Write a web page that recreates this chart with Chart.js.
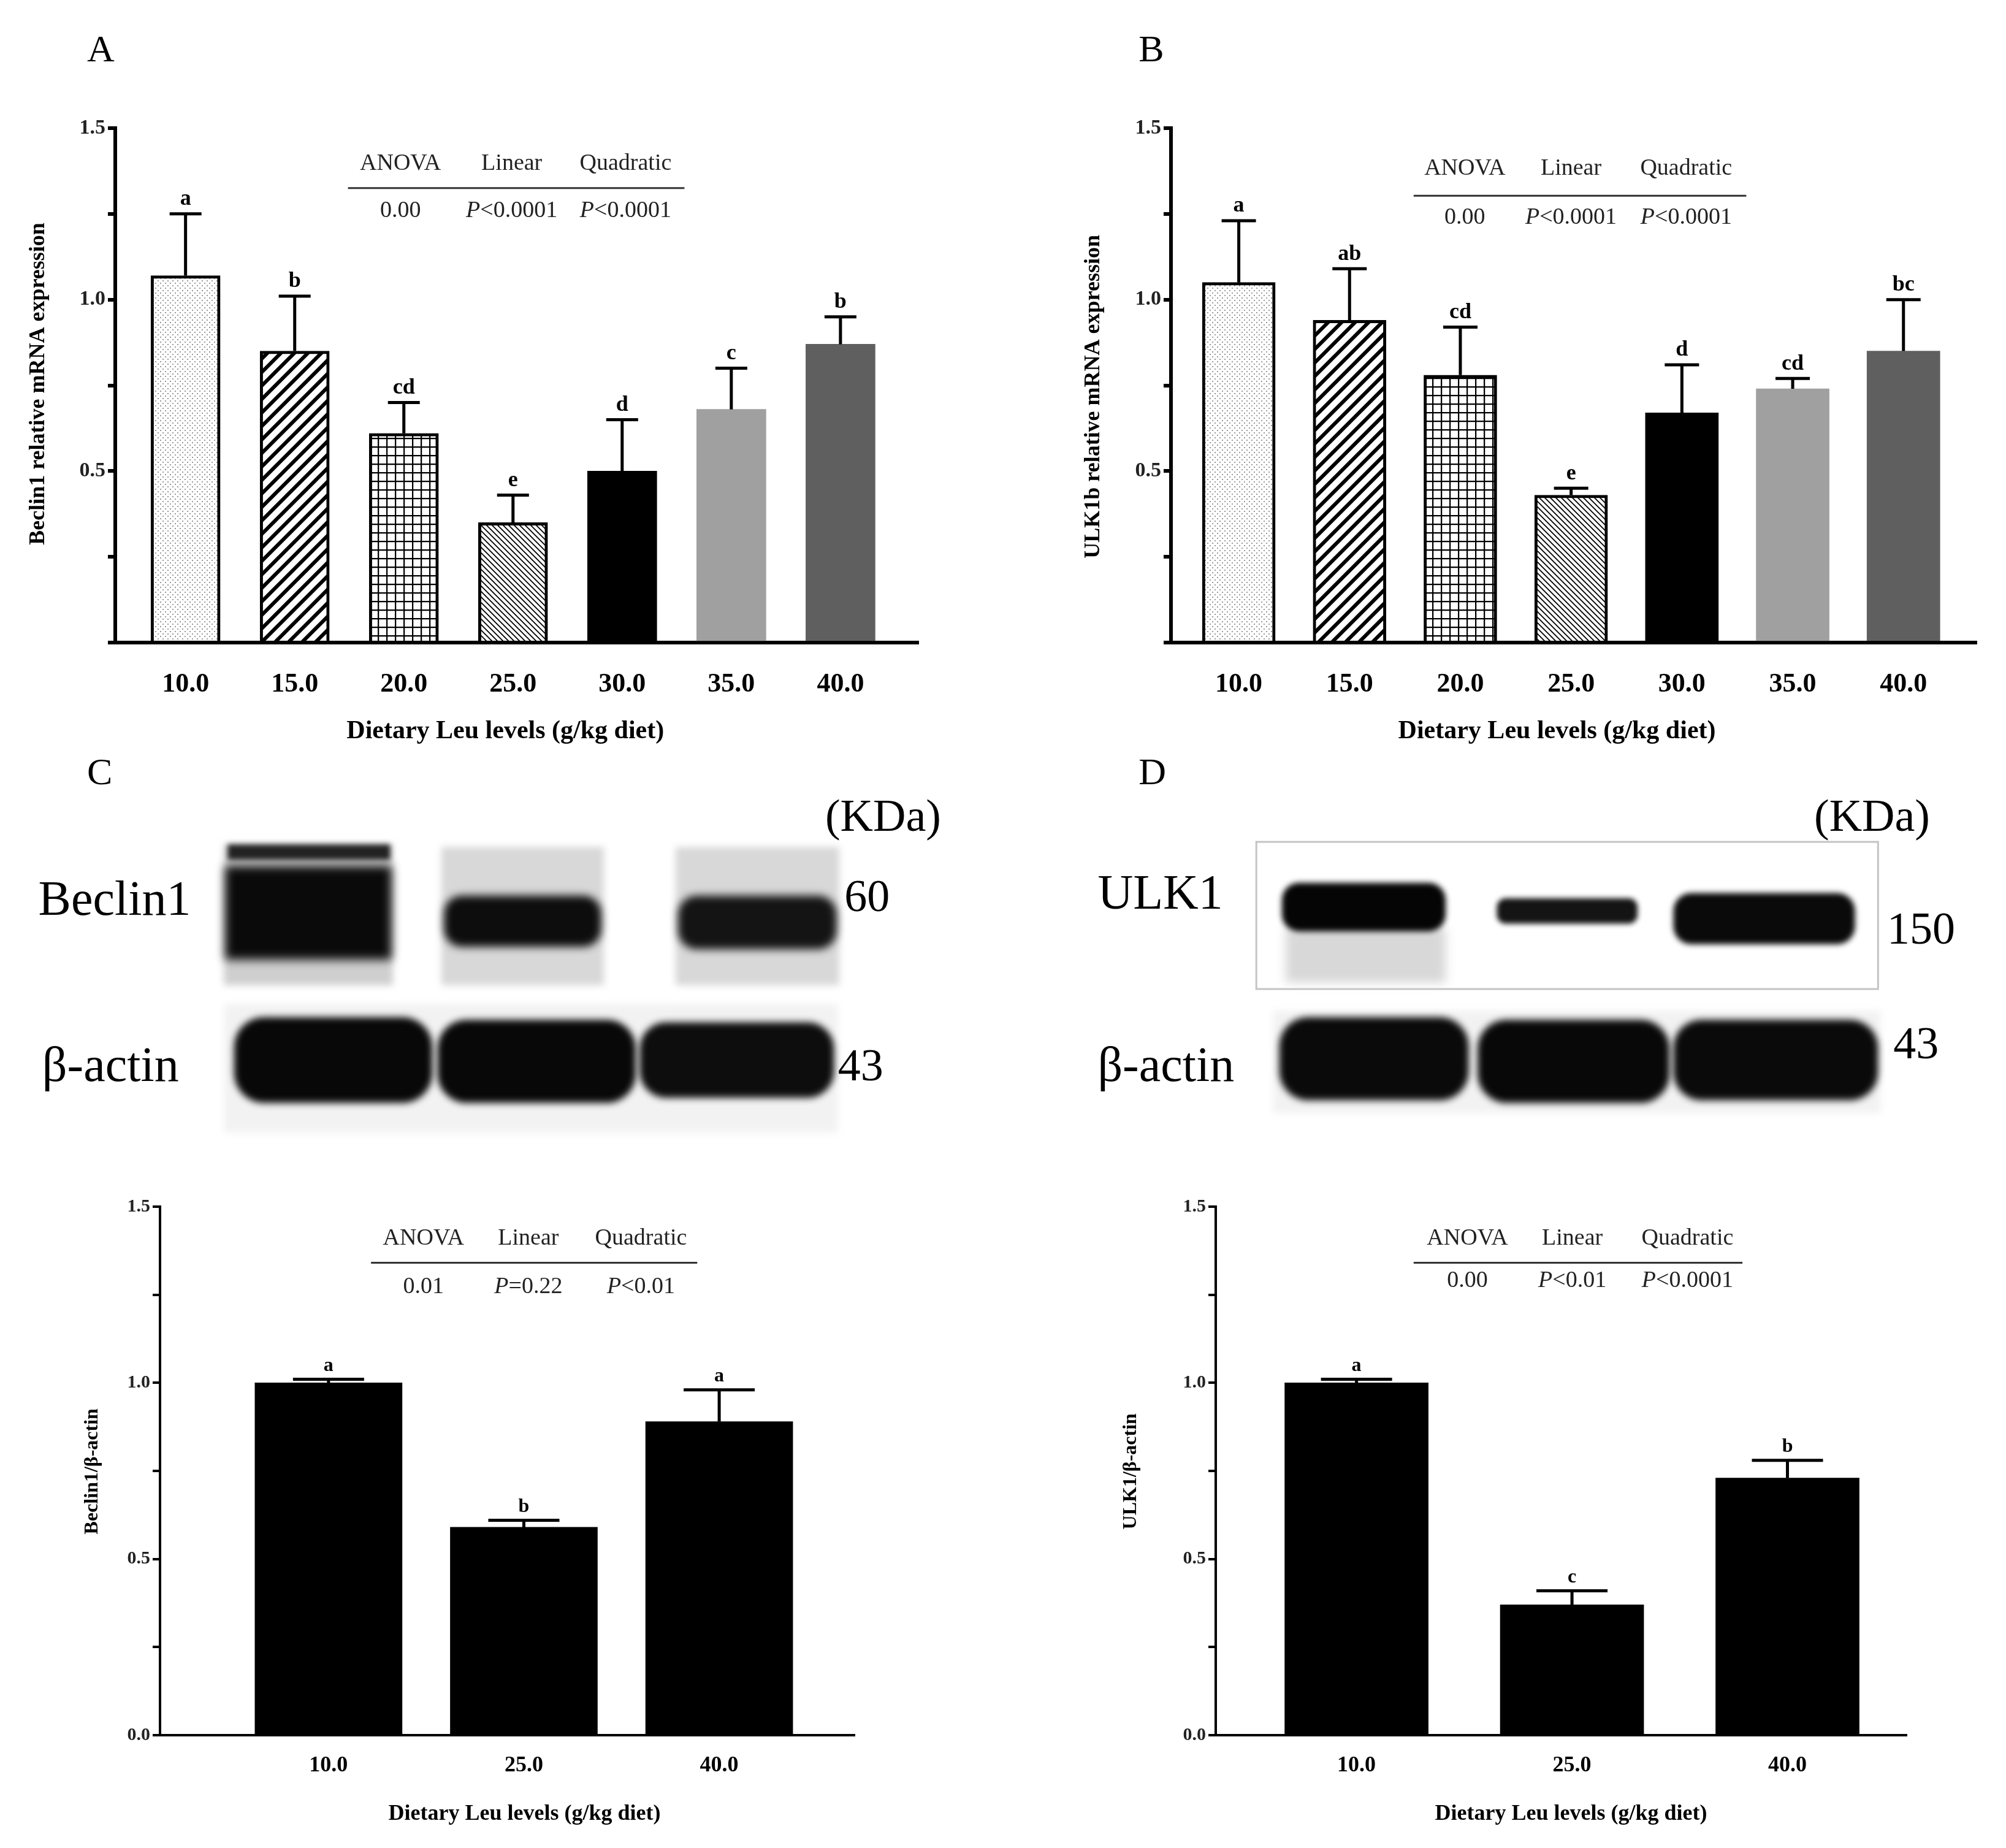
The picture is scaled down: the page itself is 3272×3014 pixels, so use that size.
<!DOCTYPE html>
<html><head><meta charset="utf-8">
<script src="https://cdn.jsdelivr.net/npm/chart.js@4.4.0/dist/chart.umd.min.js"></script>
<style>
html,body{margin:0;padding:0;background:#fff;width:3272px;height:3014px;overflow:hidden;position:relative;font-family:"Liberation Serif",serif}
canvas{position:absolute}
</style></head><body>
<canvas id="blot" width="3272" height="3014" style="left:0;top:0"></canvas>
<canvas id="cA" style="left:0;top:0"></canvas>
<canvas id="cB" style="left:1636px;top:0"></canvas>
<canvas id="cC" style="left:0;top:1800px"></canvas>
<canvas id="cD" style="left:1636px;top:1800px"></canvas>
<script>
// ---- data ----
const levelsAB = [10, 15, 20, 25, 30, 35, 40];
const beclinMRNA = [1.07, 0.85, 0.61, 0.35, 0.50, 0.68, 0.87];
const beclinMRNAErr = [0.18, 0.16, 0.09, 0.08, 0.15, 0.12, 0.08];
const beclinMRNALetters = ['a','b','cd','e','d','c','b'];
const ulkMRNA = [1.05, 0.94, 0.78, 0.43, 0.67, 0.74, 0.85];
const ulkMRNAErr = [0.18, 0.15, 0.14, 0.02, 0.14, 0.03, 0.15];
const ulkMRNALetters = ['a','ab','cd','e','d','cd','bc'];
const levelsCD = [10, 25, 40];
const beclinProt = [1.00, 0.59, 0.89];
const beclinProtErr = [0.01, 0.02, 0.09];
const beclinProtLetters = ['a','b','a'];
const ulkProt = [1.00, 0.37, 0.73];
const ulkProtErr = [0.01, 0.04, 0.05];
const ulkProtLetters = ['a','c','b'];
const yTicksAB = [0.5, 1.0, 1.5];
const yTicksCD = [0.0, 0.5, 1.0, 1.5];
const statsHead = ['ANOVA','Linear','Quadratic'];
const statsA = ['0.00','P<0.0001','P<0.0001'];
const statsB = ['0.00','P<0.0001','P<0.0001'];
const statsC = ['0.01','P=0.22','P<0.01'];
const statsD = ['0.00','P<0.01','P<0.0001'];

const S = 3272/1568;
const SERIF = '"Liberation Serif", serif';

// ---- patterns ----
function pat(kind){
  const c=document.createElement('canvas'); const n = kind==='dots'?8:(kind==='grid'?14:(kind==='wide'?22:9));
  c.width=n;c.height=n;const g=c.getContext('2d');
  g.fillStyle='#fff';g.fillRect(0,0,n,n);g.strokeStyle='#000';g.fillStyle='#9a9a9a';
  if(kind==='dots'){g.fillRect(1,1,2,2);g.fillRect(5,5,2,2);}
  else if(kind==='grid'){g.lineWidth=2.5;g.beginPath();g.moveTo(0,1);g.lineTo(n,1);g.moveTo(1,0);g.lineTo(1,n);g.stroke();}
  else if(kind==='wide'){g.lineWidth=6;g.beginPath();g.moveTo(-n,2*n);g.lineTo(2*n,-n);g.moveTo(-n,n);g.lineTo(n,-n);g.moveTo(0,2*n);g.lineTo(2*n,0);g.stroke();}
  else {g.lineWidth=1.8;g.beginPath();g.moveTo(-n,-n);g.lineTo(2*n,2*n);g.moveTo(-n,0);g.lineTo(n,2*n);g.moveTo(0,-n);g.lineTo(2*n,n);g.stroke();}
  return document.createElement('canvas').getContext('2d').createPattern(c,'repeat');
}
const fillsAB = [pat('dots'),pat('wide'),pat('grid'),pat('fine'),'#000','#a0a0a1','#5f5f5f'];
const bordersAB = [5,5,5,5,0,0,0];

// ---- plugin: error bars, letters, stats, titles ----
const deco = {
  id:'deco',
  afterDatasetsDraw(chart){
    const o = chart.options.plugins.deco; const ctx = chart.ctx;
    const xs = chart.scales.x, ys = chart.scales.y;
    const ds = chart.data.datasets[0].data;
    ctx.save();
    ctx.strokeStyle='#000';ctx.lineWidth=5;ctx.fillStyle='#000';
    ds.forEach((p,i)=>{
      const x=xs.getPixelForValue(p.x), y0=ys.getPixelForValue(p.y), y1=ys.getPixelForValue(p.y+o.err[i]);
      ctx.beginPath();ctx.moveTo(x,y0);ctx.lineTo(x,y1);ctx.moveTo(x-o.cap,y1);ctx.lineTo(x+o.cap,y1);ctx.stroke();
      ctx.font='bold '+o.letterSize+'px '+SERIF;ctx.textAlign='center';ctx.textBaseline='bottom';
      ctx.fillText(o.letters[i],x,y1-6);
    });
    const t=o.table;
    ctx.font=o.statSize+'px '+SERIF;ctx.textBaseline='middle';ctx.fillStyle='#222';
    t.cols.forEach((cx,i)=>{
      ctx.font=o.statSize+'px '+SERIF;
      ctx.textAlign='center';ctx.fillText(statsHead[i],cx*S-o.ox,t.y1*S-o.oy);
      const v=o.stats[i];
      if(v.startsWith('P')){
        ctx.font='italic '+o.statSize+'px '+SERIF;const w1=ctx.measureText('P').width;
        ctx.font=o.statSize+'px '+SERIF;const w2=ctx.measureText(v.slice(1)).width;
        const sx=cx*S-o.ox-(w1+w2)/2;ctx.textAlign='left';
        ctx.font='italic '+o.statSize+'px '+SERIF;ctx.fillText('P',sx,t.y2*S-o.oy);
        ctx.font=o.statSize+'px '+SERIF;ctx.fillText(v.slice(1),sx+w1,t.y2*S-o.oy);
      } else ctx.fillText(v,cx*S-o.ox,t.y2*S-o.oy);
    });
    ctx.lineWidth=3;ctx.strokeStyle='#333';ctx.beginPath();ctx.moveTo(t.l*S-o.ox,t.ly*S-o.oy);ctx.lineTo(t.r*S-o.ox,t.ly*S-o.oy);ctx.stroke();
    ctx.fillStyle='#000';ctx.textAlign='center';ctx.textBaseline='middle';
    ctx.font='bold '+o.xtSize+'px '+SERIF;ctx.fillText(o.xtitle,o.xt[0]*S-o.ox,o.xt[1]*S-o.oy);
    ctx.save();ctx.translate(o.yt[0]*S-o.ox,o.yt[1]*S-o.oy);ctx.rotate(-Math.PI/2);
    ctx.font='bold '+o.ytSize+'px '+SERIF;ctx.fillText(o.ytitle,0,0);ctx.restore();
    ctx.restore();
  }
};

function make(id, cfg){
  const cv=document.getElementById(id); cv.width=cfg.W; cv.height=cfg.H;
  const data = cfg.levels.map((l,i)=>({x:l,y:cfg.vals[i]}));
  new Chart(cv,{
    type:'bar',
    data:{datasets:[{data, backgroundColor:cfg.fills, borderColor:'#000', borderWidth:cfg.bw, barThickness:cfg.barW, borderSkipped:'bottom'}]},
    plugins:[deco],
    options:{
      responsive:false,animation:false,devicePixelRatio:1,
      layout:{padding:{left:0,top:cfg.top,right:cfg.right,bottom:0}},
      plugins:{legend:{display:false},tooltip:{enabled:false},
        deco:{err:cfg.err,letters:cfg.letters,stats:cfg.stats,table:cfg.table,ox:cfg.ox,oy:cfg.oy,cap:cfg.cap,
          letterSize:cfg.letterSize,statSize:cfg.statSize,xtitle:'Dietary Leu levels (g/kg diet)',ytitle:cfg.ytitle,
          xt:cfg.xt,yt:cfg.yt,xtSize:cfg.xtSize,ytSize:cfg.ytSize}},
      scales:{
        x:{type:'linear',offset:false,min:cfg.xmin,max:cfg.xmax,
          afterBuildTicks:s=>{s.ticks=cfg.levels.map(v=>({value:v}));},
          afterFit:s=>{s.height=cfg.xh;},
          grid:{display:false},border:{color:'#000',width:cfg.axW},
          ticks:{padding:cfg.xpad,color:'#000',font:{family:SERIF,weight:'bold',size:cfg.xtick},callback:v=>Number(v).toFixed(1)}},
        y:{min:0,max:1.5,
          afterBuildTicks:s=>{s.ticks=[0,0.25,0.5,0.75,1,1.25,1.5].map(v=>({value:v}));},
          afterFit:s=>{s.width=cfg.yw;},
          grid:{drawOnChartArea:false,drawTicks:true,tickLength:12,color:'#000',lineWidth:cfg.axW},
          border:{color:'#000',width:cfg.axW},
          ticks:{padding:4,color:'#222',font:{family:SERIF,weight:'bold',size:cfg.ytick},
            callback:v=>cfg.ylabels.some(t=>Math.abs(t-v)<1e-6)?Number(v).toFixed(1):''}}
      }
    }
  });
}

make('cA',{W:1560,H:1250,ox:0,oy:0,top:209,right:62,yw:188,xh:202,levels:levelsAB,vals:beclinMRNA,err:beclinMRNAErr,letters:beclinMRNALetters,
  stats:statsA,table:{cols:[313,400,489],y1:128,y2:165,ly:147,l:272,r:535},fills:fillsAB,bw:bordersAB,barW:113,cap:26,
  xmin:6.78,xmax:43.57,xpad:34,xtick:44,ytick:34,axW:6,ylabels:yTicksAB,letterSize:36,statSize:38,
  ytitle:'Beclin1 relative mRNA expression',xt:[395,572],yt:[30,300],xtSize:42,ytSize:36});
make('cB',{W:1636,H:1250,ox:1636,oy:0,top:209,right:48,yw:274,xh:202,levels:levelsAB,vals:ulkMRNA,err:ulkMRNAErr,letters:ulkMRNALetters,
  stats:statsB,table:{cols:[1145,1228,1318],y1:132,y2:170,ly:153,l:1105,r:1365},fills:fillsAB,bw:bordersAB,barW:119,cap:28,
  xmin:6.94,xmax:43.3,xpad:34,xtick:44,ytick:34,axW:6,ylabels:yTicksAB,letterSize:36,statSize:38,
  ytitle:'ULK1b relative mRNA expression',xt:[1217,572],yt:[855,310],xtSize:42,ytSize:36});
make('cC',{W:1560,H:1200,ox:0,oy:1800,top:168,right:166,yw:261,xh:170,levels:levelsCD,vals:beclinProt,err:beclinProtErr,letters:beclinProtLetters,
  stats:statsC,table:{cols:[331,413,501],y1:968,y2:1006,ly:987,l:290,r:545},fills:'#000',bw:0,barW:240,cap:58,
  xmin:-2.94,xmax:50.4,xpad:20,xtick:36,ytick:30,axW:4,ylabels:yTicksCD,letterSize:32,statSize:38,
  ytitle:'Beclin1/β-actin',xt:[410,1418],yt:[72,1150],xtSize:36,ytSize:32});
make('cD',{W:1636,H:1200,ox:1636,oy:1800,top:168,right:162,yw:347,xh:170,levels:levelsCD,vals:ulkProt,err:ulkProtErr,letters:ulkProtLetters,
  stats:statsD,table:{cols:[1147,1229,1319],y1:968,y2:1001,ly:987,l:1105,r:1362},fills:'#000',bw:0,barW:234,cap:58,
  xmin:0.2,xmax:48.3,xpad:20,xtick:36,ytick:30,axW:4,ylabels:yTicksCD,letterSize:32,statSize:38,
  ytitle:'ULK1/β-actin',xt:[1228,1418],yt:[884,1150],xtSize:36,ytSize:32});

// ---- western blot images & panel labels ----
(function(){
  const g=document.getElementById('blot').getContext('2d');
  const R=(x1,y1,x2,y2,c,b)=>{g.save();g.filter='blur('+(b||0)+'px)';g.fillStyle=c;g.fillRect(x1*S,y1*S,(x2-x1)*S,(y2-y1)*S);g.restore();};
  const RR=(x1,y1,x2,y2,c,b)=>{g.save();g.filter='blur('+(b||0)+'px)';g.fillStyle=c;g.beginPath();
    g.roundRect(x1*S,y1*S,(x2-x1)*S,(y2-y1)*S,(y2-y1)*S*0.35);g.fill();g.restore();};
  // C Beclin1
  R(175,660,307,770,'#cfcfcf',6); R(345,662,472,770,'#d8d8d8',6); R(528,662,656,770,'#d8d8d8',6);
  R(178,660,305,672,'#222',4);
  R(176,677,306,750,'#0a0a0a',8); RR(347,700,470,740,'#0d0d0d',7); RR(530,700,654,742,'#141414',7);
  // C actin
  R(175,785,655,885,'#f2f2f2',6);
  RR(183,795,338,862,'#080808',6); RR(342,797,497,862,'#080808',6); RR(500,799,652,858,'#0d0d0d',6);
  // D ULK1
  g.strokeStyle='#c4c4c4';g.lineWidth=3;g.strokeRect(982*S,658*S,486*S,115*S);
  R(1005,725,1130,768,'#d8d8d8',8);
  RR(1002,690,1130,728,'#050505',5); RR(1170,702,1280,722,'#141414',4); RR(1308,698,1450,738,'#0a0a0a',5);
  // D actin
  R(995,790,1470,870,'#f2f2f2',6);
  RR(1000,795,1148,860,'#0a0a0a',6); RR(1155,797,1305,862,'#080808',6); RR(1308,797,1468,860,'#0a0a0a',6);
  g.fillStyle='#000';g.textBaseline='middle';
  const T=(t,x,y,sz,al)=>{g.font=sz+'px '+SERIF;g.textAlign=al||'left';g.fillText(t,x*S,y*S);};
  T('A',68,40,62);T('B',890,40,62);T('C',68,605,62);T('D',890,605,62);
  T('(KDa)',645,640,74);T('Beclin1',30,705,80);T('β-actin',33,835,80);T('60',660,703,74);T('43',655,835,74);
  T('(KDa)',1418,640,74);T('ULK1',858,700,80);T('β-actin',858,835,80);T('150',1475,728,74);T('43',1480,818,74);
})();
</script></body></html>
